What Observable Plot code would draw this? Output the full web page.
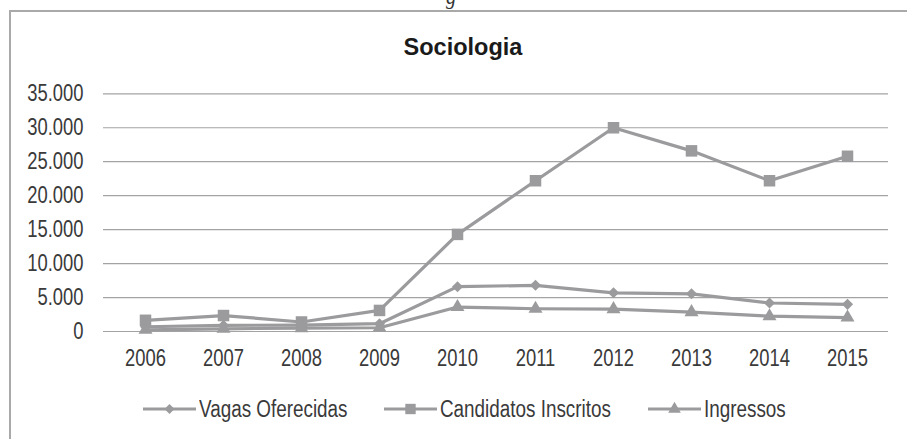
<!DOCTYPE html>
<html>
<head>
<meta charset="utf-8">
<script src="https://cdn.jsdelivr.net/npm/d3@7"></script>
<script src="https://cdn.jsdelivr.net/npm/@observablehq/plot@0.6"></script>
<style>
  html, body { margin: 0; padding: 0; background: #fff; }
  #page { position: relative; width: 907px; height: 439px; overflow: hidden; background: #fff;
          font-family: "Liberation Sans", Arial, sans-serif; color: #3a3a3a; }
  #frame { position: absolute; left: 9px; top: 10px; width: 920px; height: 460px; border: 2px solid #a9a9a9; box-sizing: border-box; }
  #above { position: absolute; left: 446px; top: -14px; font-family: "Liberation Serif", serif; font-style: italic; font-size: 20px; color: #333; }
  #title { position: absolute; left: 0; width: 926px; top: 34px; text-align: center; font-family: "Liberation Sans", Arial, sans-serif; font-weight: bold; font-size: 23.5px; color: #1a1a1a; }
  #chart { position: absolute; left: 0; top: 60px; }
  #chart svg { overflow: visible; }
  #legend { position: absolute; left: 0; top: 394px; width: 907px; height: 30px; }
  .item { position: absolute; top: 0; height: 30px; display: flex; align-items: center; font-size: 23px; white-space: nowrap; }
  .item svg { display: block; margin-right: 3px; flex: none; }
  .item span { display: inline-block; transform: scaleX(0.82); transform-origin: left center; }
</style>
</head>
<body>
<div id="page">
  <div id="above">g</div>
  <div id="frame"></div>
  <div id="title">Sociologia</div>
  <div id="chart"></div>
  <div id="legend"></div>
</div>
<script>
const years = ["2006","2007","2008","2009","2010","2011","2012","2013","2014","2015"];
const seriesNames = ["Vagas Oferecidas", "Candidatos Inscritos", "Ingressos"];
const vagasOferecidas     = [700, 900, 950, 1150, 6600, 6800, 5700, 5550, 4200, 4000];
const candidatosInscritos = [1650, 2350, 1400, 3100, 14300, 22200, 30000, 26600, 22200, 25800];
const ingressos           = [250, 400, 500, 550, 3600, 3350, 3300, 2850, 2250, 2050];
const yTicks = [0, 5000, 10000, 15000, 20000, 25000, 30000, 35000];
const symbols = ["diamond2", "square", "triangle"];
const symbolR = [5.0, 6.5, 5.2];
const legendX = [143, 384, 648];

const valuesBySeries = [vagasOferecidas, candidatosInscritos, ingressos];
const data = [];
seriesNames.forEach((s, i) => years.forEach((y, j) => data.push({series: s, year: y, value: valuesBySeries[i][j], idx: i})));

const ptBR = d3.formatLocale({decimal: ",", thousands: ".", grouping: [3], currency: ["R$", ""]});
const fmt = ptBR.format(",d");

const lineColor = "#9b9b9e";

const marks = [
  Plot.ruleY(yTicks, {stroke: "#a3a3a3", strokeWidth: 1.2, strokeOpacity: 1})
];
seriesNames.forEach((s, i) => {
  const d = data.filter(r => r.idx === i);
  marks.push(Plot.line(d, {x: "year", y: "value", stroke: lineColor, strokeWidth: 3.2}));
});
seriesNames.forEach((s, i) => {
  const d = data.filter(r => r.idx === i);
  marks.push(Plot.dot(d, {x: "year", y: "value", symbol: () => symbols[i], r: symbolR[i], fill: lineColor, stroke: "none"}));
});

const plot = Plot.plot({
  width: 907,
  height: 320,
  marginLeft: 103,
  marginRight: 19,
  marginTop: 33.3,
  marginBottom: 49,
  style: {fontFamily: '"Liberation Sans", Arial, sans-serif', fontSize: "23px", color: "#3a3a3a", background: "transparent"},
  x: {type: "point", domain: years, padding: 0.5, label: null, tickSize: 0, tickPadding: 18},
  y: {domain: [0, 35000], ticks: yTicks, tickFormat: fmt, label: null, tickSize: 0, tickPadding: 20},
  symbol: {type: "identity"},
  marks
});
// condense tick label text horizontally around its anchor point
d3.select(plot).selectAll("text").each(function() {
  const t = d3.select(this);
  const x = parseFloat(t.attr("x"));
  const x0 = isFinite(x) ? x : 0;
  const tr = t.attr("transform") || "";
  t.attr("transform", `${tr} translate(${x0},0) scale(0.8,1) translate(${-x0},0)`.trim());
});
document.getElementById("chart").appendChild(plot);

const legend = d3.select("#legend");
seriesNames.forEach((s, i) => {
  const item = legend.append("div").attr("class", "item").style("left", legendX[i] + "px");
  const sv = item.append("svg").attr("width", 53).attr("height", 20);
  sv.append("line").attr("x1", 0).attr("x2", 53).attr("y1", 10).attr("y2", 10).attr("stroke", lineColor).attr("stroke-width", 3.2);
  const symType = [d3.symbolDiamond2, d3.symbolSquare, d3.symbolTriangle][i];
  sv.append("path").attr("transform", "translate(26.5,10)")
    .attr("d", d3.symbol(symType, Math.PI * Math.pow(symbolR[i] * 0.9, 2))())
    .attr("fill", lineColor);
  item.append("span").text(s);
});
</script>
</body>
</html>
